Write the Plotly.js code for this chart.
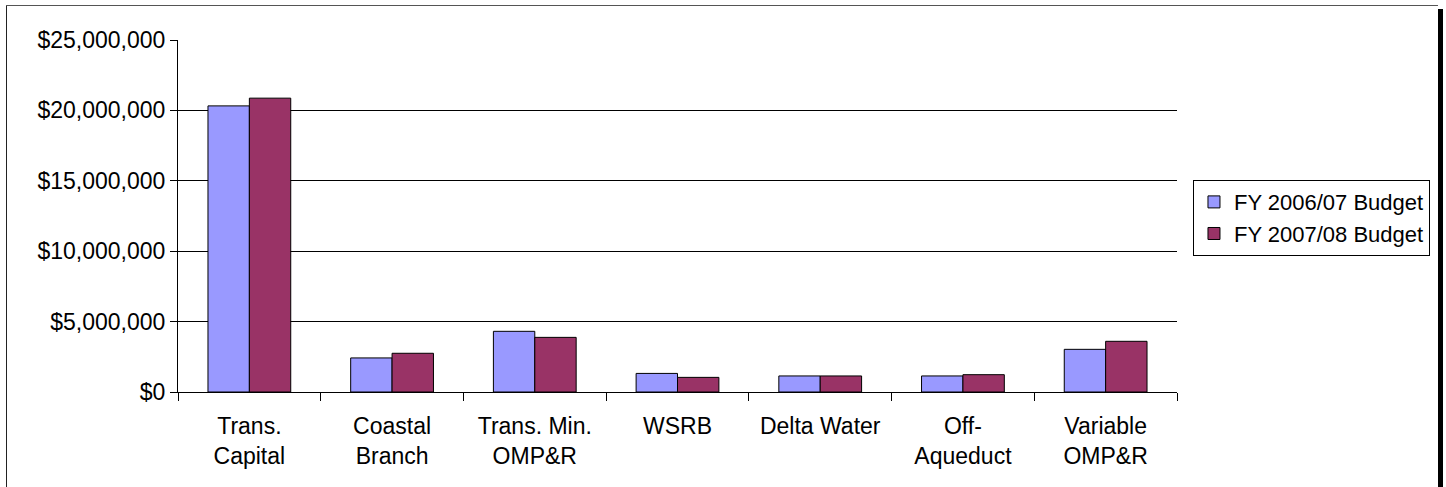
<!DOCTYPE html>
<html>
<head>
<meta charset="utf-8">
<script src="https://cdn.plot.ly/plotly-3.0.1.min.js"></script>
<style>
  html, body { margin: 0; padding: 0; background: #fff; }
  #wrap { position: relative; width: 1446px; height: 487px; overflow: hidden; }
  #chart { position: absolute; left: 0; top: 0; width: 1446px; height: 487px; }
  .frameL { position: absolute; left: 6px; top: 5px; width: 1px; height: 490px; background: #222; }
  .frameT { position: absolute; left: 6px; top: 5px; width: 1432px; height: 1px; background: #555; }
  .frameR { position: absolute; left: 1438px; top: 9px; width: 5px; height: 490px; background: #000; }
</style>
</head>
<body>
<div id="wrap">
  <div id="chart"></div>
  <div class="frameL"></div>
  <div class="frameT"></div>
  <div class="frameR"></div>
</div>
<script>
const categories = ["Trans.<br>Capital", "Coastal<br>Branch", "Trans. Min.<br>OMP&R", "WSRB", "Delta Water", "Off-<br>Aqueduct", "Variable<br>OMP&R"];
const budget0607 = [20320000, 2420000, 4310000, 1320000, 1140000, 1140000, 3030000];
const budget0708 = [20870000, 2750000, 3880000, 1040000, 1140000, 1230000, 3600000];
const seriesNames = ["FY 2006/07 Budget", "FY 2007/08 Budget"];
const tickVals = [0, 5000000, 10000000, 15000000, 20000000, 25000000];
const tickText = ["$0", "$5,000,000", "$10,000,000", "$15,000,000", "$20,000,000", "$25,000,000"];

const font = { family: "Liberation Sans, Arial, sans-serif", size: 23, color: "#000" };
const legendFont = { family: "Liberation Sans, Arial, sans-serif", size: 22, color: "#000" };

const traces = [
  { type: "bar", name: seriesNames[0], x: categories, y: budget0607,
    marker: { color: "#9999FF", line: { color: "#000", width: 1 } } },
  { type: "bar", name: seriesNames[1], x: categories, y: budget0708,
    marker: { color: "#993366", line: { color: "#000", width: 1 } } }
];

const layout = {
  width: 1446, height: 487,
  margin: { l: 178, r: 269, t: 40, b: 95, autoexpand: false },
  paper_bgcolor: "rgba(0,0,0,0)", plot_bgcolor: "#fff",
  font: font,
  barmode: "group", bargap: 0.42, bargroupgap: 0,
  showlegend: true,
  legend: {
    x: 1.016, xanchor: "left", y: 0.602, yanchor: "top",
    bordercolor: "#000", borderwidth: 1, bgcolor: "#fff",
    font: legendFont, traceorder: "normal"
  },
  xaxis: {
    type: "category", showline: true, linecolor: "#000", linewidth: 1,
    ticks: "outside", tickson: "boundaries", ticklen: 8, tickcolor: "#000",
    ticklabelstandoff: 13, automargin: false,
    showgrid: false, tickfont: font, fixedrange: true
  },
  yaxis: {
    range: [0, 25000000], tickvals: tickVals, ticktext: tickText,
    showline: true, linecolor: "#000", linewidth: 1,
    ticks: "outside", ticklen: 7, tickcolor: "#000", automargin: false,
    showgrid: true, gridcolor: "#000", gridwidth: 1, zeroline: false,
    tickfont: font, fixedrange: true
  }
};

Plotly.newPlot("chart", traces, layout, { displayModeBar: false, staticPlot: true });
</script>
</body>
</html>
